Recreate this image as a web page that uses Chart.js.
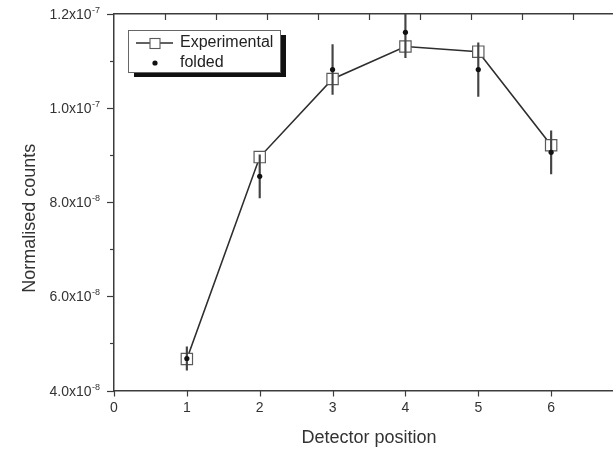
<!DOCTYPE html>
<html>
<head>
<meta charset="utf-8">
<script src="https://cdn.jsdelivr.net/npm/chart.js@4"></script>
<style>
  html, body { margin: 0; padding: 0; background: #fff; overflow: hidden; }
  canvas { display: block; }
</style>
</head>
<body>
<canvas id="detectorChart" width="640" height="450"></canvas>
<script>
// detector positions and normalised counts
const positions = [1, 2, 3, 4, 5, 6];
const experimental = [4.67e-8, 8.96e-8, 1.062e-7, 1.131e-7, 1.120e-7, 9.21e-8];
const folded = [4.68e-8, 8.55e-8, 1.082e-7, 1.161e-7, 1.082e-7, 9.06e-8];
const foldedErr = [2.5e-9, 4.6e-9, 5.3e-9, 5.4e-9, 5.7e-9, 4.6e-9];

// y axis labels (mantissa x 10^exponent) at the major ticks, bottom to top
const yTickMantissa = ['4.0', '6.0', '8.0', '1.0', '1.2'];
const yTickExponent = ['-8', '-8', '-8', '-7', '-7'];

const axisColor = '#3c3c3c';
const textColor = '#333';
const fontFamily = '"Liberation Sans", Arial, sans-serif';

Chart.defaults.font.family = fontFamily;
Chart.defaults.color = textColor;

// tick marks, y labels with superscripts, y title, legend box
const plotDecor = {
    id: 'plotDecor',
    afterDraw(chart) {
        const ctx = chart.ctx;
        const area = chart.chartArea;
        const xScale = chart.scales.x;
        const yScale = chart.scales.y;
        const topScale = chart.scales.x2;

        ctx.save();
        ctx.strokeStyle = axisColor;
        ctx.lineWidth = 1.2;
        ctx.fillStyle = textColor;

        let labelIdx = 0;
        yScale.ticks.forEach((t, i) => {
            const py = Math.round(yScale.getPixelForValue(t.value)) + 0.5;
            const isMajor = i % 2 === 0;
            ctx.beginPath();
            ctx.moveTo(area.left, py);
            ctx.lineTo(area.left - (isMajor ? 7 : 4), py);
            ctx.stroke();
            if (isMajor && labelIdx < yTickMantissa.length) {
                const right = area.left - 14;
                ctx.textBaseline = 'middle';
                ctx.textAlign = 'right';
                ctx.font = '9px ' + fontFamily;
                const exp = yTickExponent[labelIdx];
                const expW = ctx.measureText(exp).width;
                ctx.fillText(exp, right, py - 4);
                ctx.font = '14px ' + fontFamily;
                ctx.fillText(yTickMantissa[labelIdx] + 'x10', right - expW - 0.5, py + 1);
                labelIdx++;
            }
        });

        // bottom ticks point outward
        xScale.ticks.forEach(t => {
            const px = Math.round(xScale.getPixelForValue(t.value)) + 0.5;
            ctx.beginPath();
            ctx.moveTo(px, area.bottom);
            ctx.lineTo(px, area.bottom + 6);
            ctx.stroke();
        });

        // top axis ticks point inward
        topScale.ticks.forEach(t => {
            const px = Math.round(topScale.getPixelForValue(t.value)) + 0.5;
            if (px <= area.left + 1 || px >= area.right - 1) return;
            ctx.beginPath();
            ctx.moveTo(px, area.top);
            ctx.lineTo(px, area.top + 6);
            ctx.stroke();
        });

        // y axis title
        ctx.save();
        ctx.translate(30.5, (area.top + area.bottom) / 2 + 16);
        ctx.rotate(-Math.PI / 2);
        ctx.textAlign = 'center';
        ctx.textBaseline = 'middle';
        ctx.font = '18px ' + fontFamily;
        ctx.fillText('Normalised counts', 0, 0);
        ctx.restore();

        // legend with drop shadow
        const lx = 128, ly = 30, lw = 152, lh = 42;
        ctx.fillStyle = '#111';
        ctx.fillRect(lx + 6, ly + 5, lw, lh);
        ctx.fillStyle = '#fff';
        ctx.fillRect(lx, ly, lw, lh);
        ctx.strokeStyle = '#666';
        ctx.lineWidth = 1;
        ctx.strokeRect(lx + 0.5, ly + 0.5, lw, lh);

        const sets = chart.data.datasets;
        const expSet = sets.find(d => d.label === 'Experimental');
        const foldSet = sets.find(d => d.label === 'folded');

        ctx.strokeStyle = expSet.borderColor;
        ctx.lineWidth = 1.6;
        ctx.beginPath();
        ctx.moveTo(136, 43);
        ctx.lineTo(173, 43);
        ctx.stroke();
        ctx.fillStyle = '#fff';
        ctx.fillRect(150, 38.5, 10, 10);
        ctx.strokeStyle = expSet.pointBorderColor;
        ctx.lineWidth = 1.1;
        ctx.strokeRect(150, 38.5, 10, 10);

        ctx.fillStyle = foldSet.pointBackgroundColor;
        ctx.beginPath();
        ctx.arc(155, 63, 2.6, 0, Math.PI * 2);
        ctx.fill();

        ctx.fillStyle = '#222';
        ctx.font = '16px ' + fontFamily;
        ctx.textAlign = 'left';
        ctx.textBaseline = 'middle';
        ctx.fillText(expSet.label, 180, 43);
        ctx.fillText(foldSet.label, 180, 63);
        ctx.restore();
    }
};

const ctx = document.getElementById('detectorChart').getContext('2d');
new Chart(ctx, {
    type: 'line',
    data: {
        datasets: [
            {
                label: 'folded',
                data: positions.map((p, i) => ({ x: p, y: folded[i] })),
                showLine: false,
                pointRadius: 2.6,
                pointBackgroundColor: '#111',
                pointBorderWidth: 0,
                xAxisID: 'x',
                yAxisID: 'y',
                order: 1
            },
            {
                type: 'bar',
                label: 'folded error',
                data: positions.map((p, i) => ({ x: p, y: [folded[i] - foldedErr[i], folded[i] + foldedErr[i]] })),
                backgroundColor: '#444',
                barThickness: 1.5,
                clip: 0,
                xAxisID: 'x',
                yAxisID: 'y',
                order: 2
            },
            {
                label: 'Experimental',
                data: positions.map((p, i) => ({ x: p, y: experimental[i] })),
                borderColor: '#2e2e2e',
                borderWidth: 1.6,
                pointStyle: 'rect',
                pointRadius: 8,
                pointBackgroundColor: '#fff',
                pointBorderColor: '#5a5a5a',
                pointBorderWidth: 1.2,
                tension: 0,
                xAxisID: 'x',
                yAxisID: 'y',
                order: 3
            }
        ]
    },
    options: {
        responsive: false,
        animation: false,
        devicePixelRatio: 1,
        layout: { padding: { left: 0, top: 14, right: 16, bottom: 0 } },
        plugins: {
            legend: { display: false },
            tooltip: { enabled: false }
        },
        scales: {
            x: {
                type: 'linear',
                position: 'bottom',
                offset: false,
                min: 0,
                max: 7,
                ticks: { stepSize: 1, includeBounds: false, padding: 3, color: textColor, font: { size: 14 } },
                grid: { display: false, offset: false, drawTicks: true, tickLength: 6 },
                border: { color: axisColor, width: 1.5 },
                title: {
                    display: true,
                    text: 'Detector position',
                    color: textColor,
                    font: { size: 18 },
                    padding: { top: 11, bottom: 1 }
                },
                afterFit(scale) { scale.height = 59.5; }
            },
            x2: {
                type: 'linear',
                position: 'top',
                offset: false,
                min: 0,
                max: 10,
                ticks: { display: false, stepSize: 1 },
                grid: { display: false, offset: false, drawTicks: false },
                border: { color: axisColor, width: 1.5 },
                afterFit(scale) { scale.height = 0; }
            },
            y: {
                type: 'linear',
                min: 4e-8,
                max: 1.2e-7,
                ticks: { display: false, stepSize: 1e-8 },
                grid: { display: false, drawTicks: false },
                border: { color: axisColor, width: 1.5 },
                afterFit(scale) { scale.width = 114; }
            }
        }
    },
    plugins: [plotDecor]
});
</script>
</body>
</html>
